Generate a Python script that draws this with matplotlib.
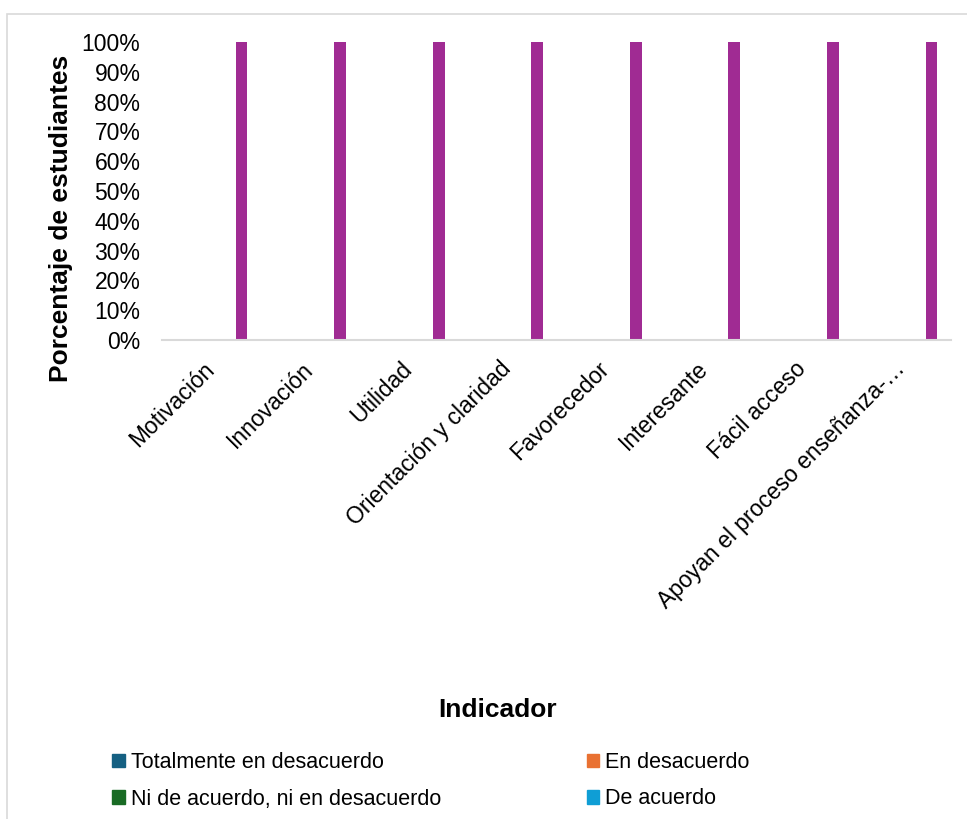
import numpy as np
import matplotlib.pyplot as plt
from matplotlib.patches import Rectangle, Patch

categorias = ["Motivación", "Innovación", "Utilidad", "Orientación y claridad",
              "Favorecedor", "Interesante", "Fácil acceso",
              "Apoyan el proceso enseñanza-…"]
series = ["Totalmente en desacuerdo", "En desacuerdo",
          "Ni de acuerdo, ni en desacuerdo", "De acuerdo", "Totalmente de acuerdo"]
valores = [
    [0, 0, 0, 0, 0, 0, 0, 0],
    [0, 0, 0, 0, 0, 0, 0, 0],
    [0, 0, 0, 0, 0, 0, 0, 0],
    [0, 0, 0, 0, 0, 0, 0, 0],
    [1, 1, 1, 1, 1, 1, 1, 1],
]
colores = ["#156082", "#E97132", "#196B24", "#0F9ED5", "#A02B93"]

plt.rcParams["font.family"] = ["Liberation Sans", "DejaVu Sans"]

fig = plt.figure(figsize=(9.67, 8.19), dpi=100)
ax = fig.add_axes([162 / 967, 1 - 340 / 819, (950.7 - 162) / 967, (340 - 42) / 819])

x = np.arange(len(categorias))
paso = 0.153
ancho = 0.12
for i, (nombre, vals) in enumerate(zip(series, valores)):
    ax.bar(x + (i - 2) * paso, vals, ancho, color=colores[i], label=nombre)

ax.set_xlim(-0.5, len(categorias) - 0.5)
ax.set_ylim(0, 1)
ticks = np.arange(0, 1.01, 0.1)
ax.set_yticks(ticks)
ax.set_yticklabels([f"{int(round(v * 100))}%" for v in ticks])
ax.set_xticks(x)
ax.set_xticklabels(categorias, rotation=45, ha="right", va="center",
                   rotation_mode="anchor")
ax.tick_params(axis="both", length=0, labelsize=16.5, colors="#000000")
ax.tick_params(axis="x", pad=18.5)
ax.tick_params(axis="y", pad=15.5)
for s in ["top", "right", "left"]:
    ax.spines[s].set_visible(False)
ax.spines["bottom"].set_color("#d9d9d9")
ax.spines["bottom"].set_linewidth(1.5)

fig.text(61 / 967, 1 - 218 / 819, "Porcentaje de estudiantes", fontsize=19,
         fontweight="bold", rotation=90, ha="center", va="center")
fig.text(498 / 967, 1 - 710 / 819, "Indicador", fontsize=19, fontweight="bold",
         ha="center", va="center")

# legend in Excel row order (only the rows visible in the chart area)
orden = [0, 2, 1, 3]
handles = [Patch(color=colores[i]) for i in orden]
labels = [series[i] for i in orden]
fig.legend(handles, labels, loc="upper left", bbox_to_anchor=(112 / 967, 1 - 752 / 819),
           ncol=2, frameon=False, handlelength=0.6, handleheight=0.6, handletextpad=0.28,
           columnspacing=6.75, labelspacing=0.72, borderpad=0, borderaxespad=0,
           fontsize=15.5)

# chart area border
fig.patches.append(Rectangle((7 / 967, -0.1), 1.5, (805 / 819) + 0.1,
                             transform=fig.transFigure, fill=False,
                             edgecolor="#d9d9d9", linewidth=1.2))

fig.savefig("out.png", dpi=100)
